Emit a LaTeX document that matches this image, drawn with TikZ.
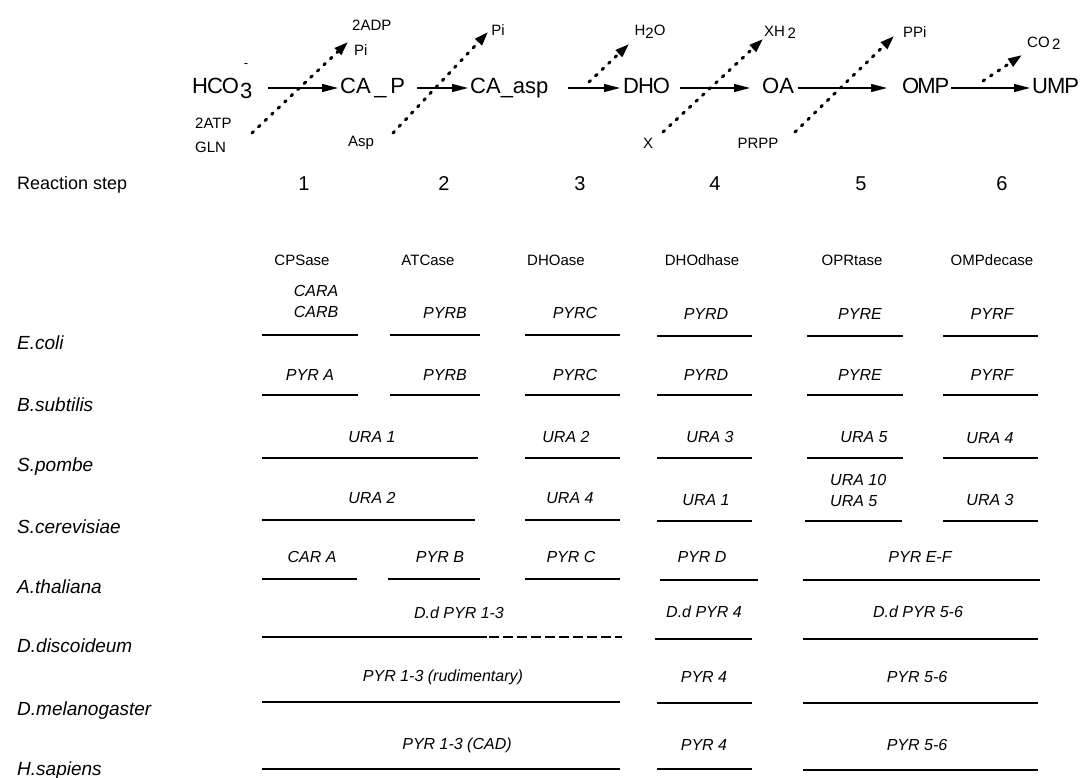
\documentclass[tikz,border=0pt]{standalone}
\usepackage{fontspec}
\setmainfont{Liberation Sans}
\usetikzlibrary{arrows.meta}
\begin{document}
\begin{tikzpicture}[x=1pt,y=-1pt,
 rxn/.style={font=\fontsize{22}{22}\selectfont, inner sep=0pt, anchor=west, text height=15pt, text depth=4pt, align=left},
 smlab/.style={font=\fontsize{15}{15}\selectfont, inner sep=0pt},
 hdr/.style={font=\fontsize{15}{15}\selectfont, inner sep=0pt},
 gene/.style={font=\fontsize{16}{21}\selectfont\itshape, inner sep=0pt, align=left},
 spec/.style={font=\fontsize{19}{19}\selectfont\itshape, inner sep=0pt, anchor=west},
 num/.style={font=\fontsize{20}{20}\selectfont, inner sep=0pt},
 bar/.style={line width=2.6pt},
 dbar/.style={line width=2.6pt, dash pattern=on 10pt off 4pt},
 rxarr/.style={line width=1.3pt, -{Triangle[length=16pt,width=8pt]}},
 dotarr/.style={line width=3pt, line cap=round, dash pattern=on 2pt off 7pt, -{Triangle[length=14pt,width=9pt]}}
]
\useasboundingbox (0,0) rectangle (1083,778);
\fill[white] (0,0) rectangle (1083,778);

% ---------- reaction row ----------
\node[rxn, text width=63pt] (hco) at (192,88) {H\kern-1pt C\kern-1pt O\kern1pt\raisebox{-5pt}{3}};
\node[font=\fontsize{13}{13}\selectfont, inner sep=0pt] (minus) at (246,66) {-};
\node[rxn, text width=75pt] (cap) at (340,88) {CA\,\_\,P};
\node[rxn, text width=90pt] (casp) at (470,88) {CA\_asp};
\node[rxn, text width=45pt] (dho) at (623,88) {D\kern-1pt H\kern-1pt O};
\node[rxn, text width=31pt] (oa) at (762,88) {OA};
\node[rxn, text width=45pt] (omp) at (902,88) {O\kern-2pt M\kern-1pt P};
\node[rxn, text width=41pt] (ump) at (1032,88) {U\kern-1pt M\kern-1pt P};

\draw[rxarr] ([xshift=13pt]hco.east) -- ([xshift=-2pt]cap.west);
\draw[rxarr] ([xshift=2pt]cap.east) -- ([xshift=-2pt]casp.west);
\draw[rxarr] ([xshift=8pt]casp.east) -- ([xshift=-3pt]dho.west);
\draw[rxarr] ([xshift=12pt]dho.east) -- ([xshift=-12pt]oa.west);
\draw[rxarr] ([xshift=5pt]oa.east) -- ([xshift=-15pt]omp.west);
\draw[rxarr] ([xshift=4pt]omp.east) -- ([xshift=-2pt]ump.west);

% side products / substrates
\node[smlab, anchor=west] (adp) at (352,25) {2ADP};
\node[smlab, anchor=west] (pia) at (354,50) {Pi};
\node[smlab, anchor=west] (atp) at (195,123) {2ATP};
\node[smlab, anchor=west] (gln) at (195,147) {GLN};
\node[smlab] (asp) at (361,143) {Asp};
\node[smlab] (pib) at (498,30) {Pi};
\node[smlab] (hho) at (650,32) {H\raisebox{-3pt}{2}O};
\node[smlab, anchor=west] (xh) at (764,32) {XH\,\raisebox{-2pt}{2}};
\node[smlab] (xx) at (648,143) {X};
\node[smlab] (prpp) at (758,143) {PRPP};
\node[smlab, anchor=west] (ppi) at (903,32) {PPi};
\node[smlab, anchor=west] (co) at (1027,43) {CO\,\raisebox{-2pt}{2}};

\coordinate (d1s) at (252,133); \coordinate (d1e) at (348,42);
\coordinate (d2s) at (393,133); \coordinate (d2e) at (488,32);
\coordinate (d3s) at (589,82);  \coordinate (d3e) at (629,44);
\coordinate (d4s) at (663,132); \coordinate (d4e) at (763,39);
\coordinate (d5s) at (795,132); \coordinate (d5e) at (894,36);
\coordinate (d6s) at (983,81);  \coordinate (d6e) at (1022,55);
\draw[dotarr] (d1s) -- (d1e);
\draw[dotarr] (d2s) -- (d2e);
\draw[dotarr] (d3s) -- (d3e);
\draw[dotarr] (d4s) -- (d4e);
\draw[dotarr] (d5s) -- (d5e);
\draw[dotarr] (d6s) -- (d6e);

% ---------- reaction steps ----------
\node[spec, font=\fontsize{18}{18}\selectfont] (rs) at (17,185) {Reaction step};
\node[num] (n1) at (304,184) {1};
\node[num] (n2) at (444,184) {2};
\node[num] (n3) at (580,184) {3};
\node[num] (n4) at (715,184) {4};
\node[num] (n5) at (861,184) {5};
\node[num] (n6) at (1002,184) {6};

% ---------- enzyme headers ----------
\node[hdr] (h1) at (302,260) {CPSase};
\node[hdr] (h2) at (428,260) {ATCase};
\node[hdr] (h3) at (556,260) {DHOase};
\node[hdr] (h4) at (702,260) {DHOdhase};
\node[hdr] (h5) at (852,260) {OPRtase};
\node[hdr] (h6) at (992,260) {OMPdecase};

% ---------- species ----------
\node[spec] (s1) at (17,343) {E.coli};
\node[spec] (s2) at (17,405) {B.subtilis};
\node[spec] (s3) at (17,467) {S.pombe};
\node[spec] (s4) at (17,527) {S.cerevisiae};
\node[spec] (s5) at (17,587) {A.thaliana};
\node[spec] (s6) at (17,646) {D.discoideum};
\node[spec] (s7) at (17,711) {D.melanogaster};
\node[spec] (s8) at (17,771) {H.sapiens};

% E.coli
\node[gene] (g11) at (316,301) {CARA\\CARB};
\node[gene] (g12) at (445,313) {PYRB};
\node[gene] (g13) at (575,313) {PYRC};
\node[gene] (g14) at (706,314) {PYRD};
\node[gene] (g15) at (860,314) {PYRE};
\node[gene] (g16) at (992,314) {PYRF};
\draw[bar] (262,335) -- (358,335);
\draw[bar] (390,335) -- (480,335);
\draw[bar] (525,335) -- (620,335);
\draw[bar] (657,336) -- (752,336);
\draw[bar] (807,336) -- (903,336);
\draw[bar] (943,336) -- (1038,336);

% B.subtilis
\node[gene] (g21) at (310,375) {PYR A};
\node[gene] (g22) at (445,375) {PYRB};
\node[gene] (g23) at (575,375) {PYRC};
\node[gene] (g24) at (706,375) {PYRD};
\node[gene] (g25) at (860,375) {PYRE};
\node[gene] (g26) at (992,375) {PYRF};
\draw[bar] (262,395) -- (358,395);
\draw[bar] (390,395) -- (480,395);
\draw[bar] (525,395) -- (620,395);
\draw[bar] (657,395) -- (752,395);
\draw[bar] (807,395) -- (903,395);
\draw[bar] (943,395) -- (1038,395);

% S.pombe
\node[gene] (g31) at (372,437) {URA 1};
\node[gene] (g32) at (566,437) {URA 2};
\node[gene] (g33) at (710,437) {URA 3};
\node[gene] (g34) at (864,437) {URA 5};
\node[gene] (g35) at (990,438) {URA 4};
\draw[bar] (262,458) -- (478,458);
\draw[bar] (525,458) -- (620,458);
\draw[bar] (657,458) -- (752,458);
\draw[bar] (807,458) -- (903,458);
\draw[bar] (943,458) -- (1038,458);

% S.cerevisiae
\node[gene] (g41) at (372,498) {URA 2};
\node[gene] (g42) at (570,498) {URA 4};
\node[gene] (g43) at (706,500) {URA 1};
\node[gene, anchor=west] (g44) at (830,490) {URA 10\\URA 5};
\node[gene] (g45) at (990,500) {URA 3};
\draw[bar] (262,520) -- (475,520);
\draw[bar] (525,520) -- (620,520);
\draw[bar] (657,521) -- (752,521);
\draw[bar] (805,521) -- (902,521);
\draw[bar] (943,521) -- (1038,521);

% A.thaliana
\node[gene] (g51) at (312,557) {CAR A};
\node[gene] (g52) at (440,557) {PYR B};
\node[gene] (g53) at (571,557) {PYR C};
\node[gene] (g54) at (702,557) {PYR D};
\node[gene] (g55) at (920,557) {PYR E-F};
\draw[bar] (262,579) -- (357,579);
\draw[bar] (388,579) -- (480,579);
\draw[bar] (525,579) -- (620,579);
\draw[bar] (660,580) -- (758,580);
\draw[bar] (803,580) -- (1040,580);

% D.discoideum
\node[gene] (g61) at (459,613) {D.d PYR 1-3};
\node[gene] (g62) at (704,612) {D.d PYR 4};
\node[gene] (g63) at (918,612) {D.d PYR 5-6};
\draw[bar] (262,637) -- (487,637);
\draw[dbar] (489,637) -- (622,637);
\draw[bar] (655,639) -- (752,639);
\draw[bar] (803,639) -- (1038,639);

% D.melanogaster
\node[gene] (g71) at (443,677) {PYR 1-3 (rudimentary)};
\node[gene] (g72) at (704,677) {PYR 4};
\node[gene] (g73) at (917,677) {PYR 5-6};
\draw[bar] (262,702) -- (620,702);
\draw[bar] (657,703) -- (752,703);
\draw[bar] (803,703) -- (1038,703);

% H.sapiens
\node[gene] (g81) at (457,745) {PYR 1-3 (CAD)};
\node[gene] (g82) at (704,745) {PYR 4};
\node[gene] (g83) at (917,745) {PYR 5-6};
\draw[bar] (262,769) -- (620,769);
\draw[bar] (657,769) -- (752,769);
\draw[bar] (803,770) -- (1038,770);
\end{tikzpicture}
\end{document}
